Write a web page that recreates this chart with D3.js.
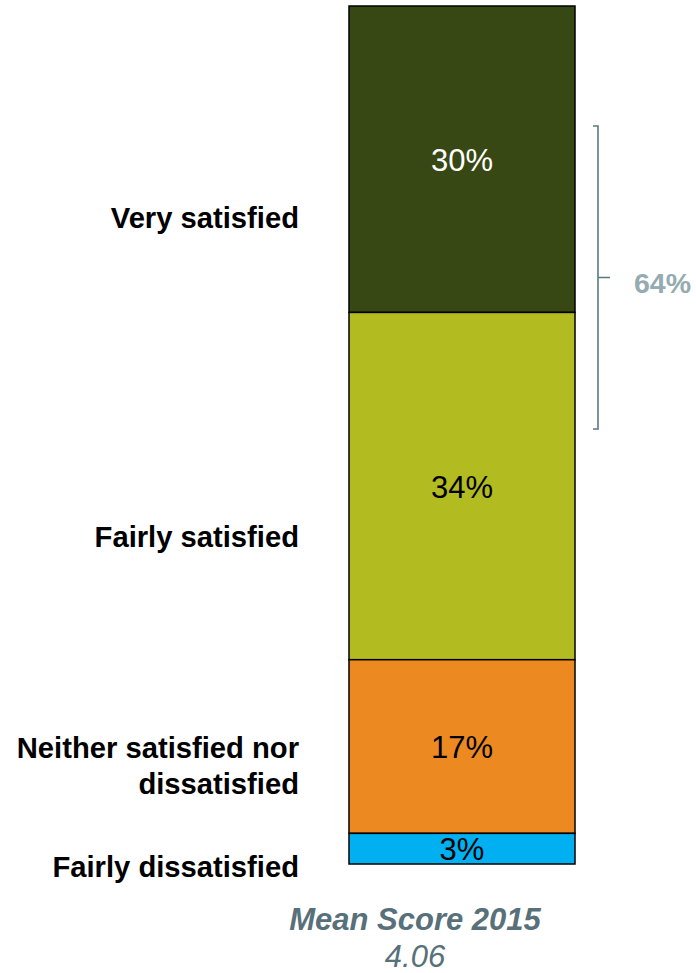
<!DOCTYPE html>
<html>
<head>
<meta charset="utf-8">
<script src="https://cdn.jsdelivr.net/npm/d3@7"></script>
<style>
  html, body { margin: 0; padding: 0; background: #ffffff; }
  svg { display: block; }
  text { font-family: "Liberation Sans", Arial, Helvetica, sans-serif; }
</style>
</head>
<body>
<svg id="chart" width="696" height="973"></svg>
<script>
// ---- data ----
const categories = ["Very satisfied", "Fairly satisfied", "Neither satisfied nor dissatisfied", "Fairly dissatisfied"];
const labelLines = [["Very satisfied"], ["Fairly satisfied"], ["Neither satisfied nor", "dissatisfied"], ["Fairly dissatisfied"]];
const values = [30, 34, 17, 3];
const colors = ["#384814", "#b2bb1f", "#ec8a21", "#00b0f0"];
const textColors = ["#ffffff", "#000000", "#000000", "#000000"];
const netLabel = "64%";
const netCategories = ["Very satisfied", "Fairly satisfied"];
const meanTitle = "Mean Score 2015";
const meanValue = "4.06";

// ---- layout ----
const svg = d3.select("#chart");
const barX0 = 349, barX1 = 575;
const total = d3.sum(values);
const y = d3.scaleLinear().domain([0, total]).range([6, 864]);
const x = d3.scaleBand().domain(["2015"]).range([barX0, barX1]).padding(0);

const cum = [];
values.reduce((acc, v, i) => { cum.push({ cat: categories[i], v, start: acc, end: acc + v, i }); return acc + v; }, 0);

// segments
svg.append("g").selectAll("rect").data(cum).join("rect")
  .attr("x", x("2015"))
  .attr("width", x.bandwidth())
  .attr("y", d => y(d.start))
  .attr("height", d => y(d.end) - y(d.start))
  .attr("fill", d => colors[d.i])
  .attr("stroke", "#000")
  .attr("stroke-width", 1.5);

// value labels
const valFont = 31;
svg.append("g").selectAll("text").data(cum).join("text")
  .attr("x", x("2015") + x.bandwidth() / 2)
  .attr("y", d => (y(d.start) + y(d.end)) / 2 + valFont * 0.38)
  .attr("text-anchor", "middle")
  .attr("font-size", valFont)
  .attr("fill", d => textColors[d.i])
  .text(d => d.v + "%");

// category labels (right aligned left of bar)
const labelOffsets = [69, 61, 11, 28]; // baseline offset from segment middle
const lineH = 36;
const catFont = 29.2;
const lg = svg.append("g");
cum.forEach((d, i) => {
  const mid = (y(d.start) + y(d.end)) / 2;
  const t = lg.append("text")
    .attr("x", 299)
    .attr("text-anchor", "end")
    .attr("font-size", catFont)
    .attr("font-weight", "bold")
    .attr("fill", "#000");
  labelLines[i].forEach((ln, j) => {
    t.append("tspan").attr("x", 299).attr("y", mid + labelOffsets[i] + j * lineH).text(ln);
  });
});

// bracket for net (Very + Fairly satisfied)
const bx = 598;
const bTopY = 126, bBotY = 429;
const bMid = (bTopY + bBotY) / 2;
const bracketColor = "#5b7880";
svg.append("path")
  .attr("d", `M${bx - 5},${bTopY} H${bx} V${bBotY} H${bx - 5} M${bx},${bMid} H${bx + 12}`)
  .attr("fill", "none")
  .attr("stroke", bracketColor)
  .attr("stroke-width", 1.6);
svg.append("text")
  .attr("x", 634)
  .attr("y", bMid + 15)
  .attr("font-size", 28.5)
  .attr("font-weight", "bold")
  .attr("fill", "#93abb1")
  .text(netLabel);

// mean score
const cx = 415;
svg.append("text")
  .attr("x", cx).attr("y", 930)
  .attr("text-anchor", "middle")
  .attr("font-size", 31)
  .attr("font-weight", "bold")
  .attr("font-style", "italic")
  .attr("fill", "#58707a")
  .text(meanTitle);
svg.append("text")
  .attr("x", cx).attr("y", 967)
  .attr("text-anchor", "middle")
  .attr("font-size", 31)
  .attr("font-style", "italic")
  .attr("fill", "#58707a")
  .text(meanValue);
</script>
</body>
</html>
